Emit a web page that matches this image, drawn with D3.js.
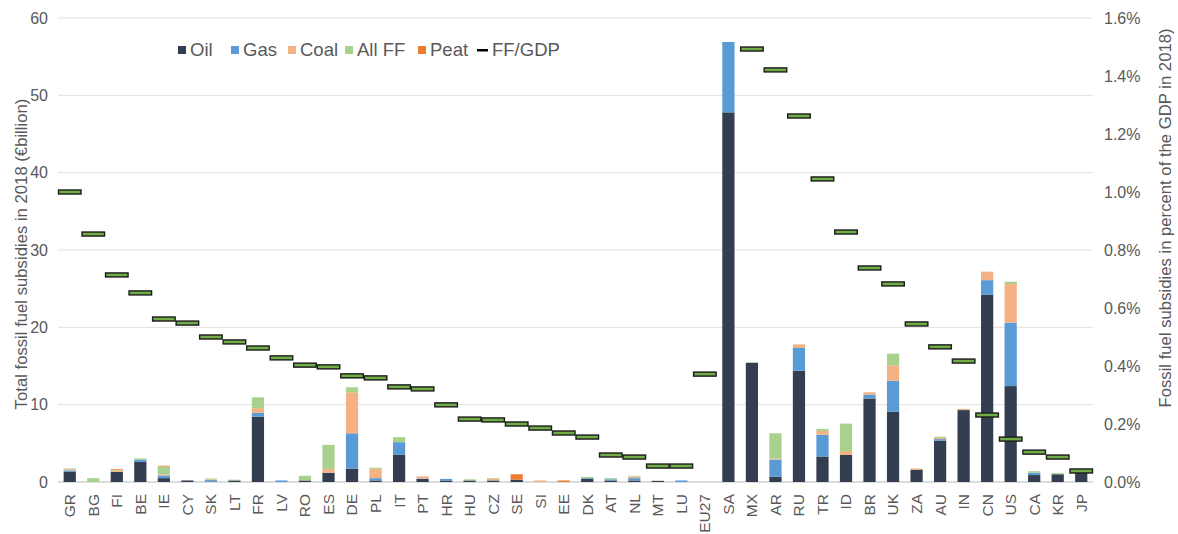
<!DOCTYPE html>
<html>
<head>
<meta charset="utf-8">
<script src="https://cdn.jsdelivr.net/npm/d3@7"></script>
<style>
  body { margin: 0; background: #fff; }
  text { font-family: "Liberation Sans", Arial, sans-serif; fill: #595959; }
</style>
</head>
<body>
<div id="chart"></div>
<script>
// countries, EU members first then EU27 then G20 + others
const countries = ["GR","BG","FI","BE","IE","CY","SK","LT","FR","LV","RO","ES","DE","PL","IT","PT","HR","HU","CZ","SE","SI","EE","DK","AT","NL","MT","LU","EU27",
  "SA","MX","AR","RU","TR","ID","BR","UK","ZA","AU","IN","CN","US","CA","KR","JP"];

// subsidies in €billion
const oil  = [1.3,0,1.3,2.6,0.5,0.2,0.05,0.2,8.45,0,0.2,1.2,1.7,0.2,3.5,0.4,0.2,0.2,0.2,0.3,0,0,0.4,0.2,0.2,0.15,0,0,
  47.8,15.4,0.7,14.4,3.3,3.5,10.8,9.1,1.6,5.35,9.3,24.2,12.4,0.9,1.0,1.2];
const gas  = [0.2,0,0,0.3,0.35,0,0.2,0,0.5,0.2,0,0,4.6,0.3,1.65,0.05,0.2,0,0,0,0,0,0.1,0.15,0.3,0,0.2,0,
  9.1,0,2.2,3.0,2.8,0,0.5,4.0,0,0.2,0,1.9,8.2,0.3,0,0];
const coal = [0.15,0,0.15,0,0.15,0,0.1,0,0.6,0,0,0.5,5.3,1.2,0,0.2,0,0,0.2,0,0.2,0,0,0,0.2,0,0,0,
  0,0,0.1,0.4,0.5,0.5,0.3,2.0,0.15,0.15,0.15,1.1,5.0,0,0,0];
const allFF= [0.1,0.5,0.15,0.15,1.0,0,0.1,0.1,1.4,0,0.6,3.1,0.65,0.15,0.65,0,0,0.15,0.1,0,0,0,0.15,0.15,0.1,0,0,0,
  0,0.1,3.3,0,0.25,3.55,0,1.5,0,0.15,0,0,0.3,0.2,0.15,0];
const peat = [0,0,0.1,0,0.1,0,0,0,0,0,0,0,0,0,0,0.05,0,0,0,0.7,0,0.2,0,0,0,0,0,0,
  0,0,0,0,0,0,0,0,0,0,0,0,0,0,0,0];

// fossil fuel subsidies as % of GDP (SA off the scale)
const ffGdp = [1.0,0.855,0.714,0.652,0.562,0.548,0.5,0.483,0.462,0.428,0.403,0.397,0.366,0.359,0.328,0.321,0.266,0.217,0.214,0.2,0.186,0.169,0.155,0.093,0.086,0.055,0.055,0.372,
  null,1.493,1.421,1.262,1.045,0.862,0.738,0.683,0.545,0.466,0.417,0.231,0.148,0.103,0.086,0.038];

const seriesNames = ["Oil","Gas","Coal","All FF","Peat"];
const seriesColors = ["#333f50","#5b9bd5","#f4b183","#a9d18e","#ed7d31"];
const leftTicks = [0,10,20,30,40,50,60];
const rightTicks = [0,0.002,0.004,0.006,0.008,0.010,0.012,0.014,0.016];

const width = 1178, height = 534;
const margin = {top: 18, right: 85, bottom: 52, left: 58};

const data = countries.map((c, i) => ({
  country: c, "Oil": oil[i], "Gas": gas[i], "Coal": coal[i], "All FF": allFF[i], "Peat": peat[i], gdp: ffGdp[i]
}));

const svg = d3.select("#chart").append("svg")
  .attr("width", width).attr("height", height);

const x = d3.scaleBand()
  .domain(countries)
  .range([margin.left, width - margin.right])
  .paddingInner(0.48).paddingOuter(0.24);

const y = d3.scaleLinear().domain([0, 60]).range([height - margin.bottom, margin.top]);
const y2 = d3.scaleLinear().domain([0, 0.016]).range([height - margin.bottom, margin.top]);

// gridlines
svg.append("g")
  .selectAll("line")
  .data(leftTicks)
  .enter().append("line")
    .attr("x1", margin.left).attr("x2", width - margin.right)
    .attr("y1", d => y(d)).attr("y2", d => y(d))
    .attr("stroke", d => d === 0 ? "#d0d0d0" : "#e0e0e0")
    .attr("stroke-width", d => d === 0 ? 1.5 : 1);

// left axis
const yAxis = g => g
  .attr("transform", `translate(${margin.left},0)`)
  .call(d3.axisLeft(y).tickValues(leftTicks).tickSize(0).tickPadding(10))
  .call(g => g.select(".domain").remove())
  .call(g => g.selectAll("text").attr("font-size", 16));
svg.append("g").call(yAxis);

// right axis
const y2Axis = g => g
  .attr("transform", `translate(${width - margin.right},0)`)
  .call(d3.axisRight(y2).tickValues(rightTicks).tickFormat(d3.format(".1%")).tickSize(0).tickPadding(11))
  .call(g => g.select(".domain").remove())
  .call(g => g.selectAll("text").attr("font-size", 16));
svg.append("g").call(y2Axis);

// x axis labels
const xAxis = g => g
  .attr("transform", `translate(0,${height - margin.bottom})`)
  .call(d3.axisBottom(x).tickSize(0))
  .call(g => g.select(".domain").remove())
  .call(g => g.selectAll("text")
    .attr("font-size", 15.5)
    .attr("transform", "rotate(-90)")
    .attr("text-anchor", "end")
    .attr("x", -12).attr("y", 0).attr("dy", "0.35em"));
svg.append("g").call(xAxis);

// axis titles
svg.append("text")
  .attr("transform", "translate(21,254) rotate(-90)")
  .attr("text-anchor", "middle")
  .attr("dy", "0.35em")
  .attr("font-size", 16.7)
  .text("Total fossil fuel subsidies in 2018 (€billion)");

svg.append("text")
  .attr("transform", "translate(1165,218) rotate(-90)")
  .attr("text-anchor", "middle")
  .attr("dy", "0.35em")
  .attr("font-size", 16.7)
  .text("Fossil fuel subsidies in percent of the GDP in 2018)");

// stacked bars
const stack = d3.stack().keys(seriesNames);
const stacked = stack(data);
const color = d3.scaleOrdinal().domain(seriesNames).range(seriesColors);

svg.append("g")
  .selectAll("g")
  .data(stacked)
  .enter().append("g")
    .attr("fill", d => color(d.key))
  .selectAll("rect")
  .data(d => d)
  .enter().append("rect")
    .attr("x", d => x(d.data.country))
    .attr("width", x.bandwidth())
    .attr("y", d => y(d[1]))
    .attr("height", d => y(d[0]) - y(d[1]));

// FF/GDP markers
const step = x.step();
svg.append("g")
  .selectAll("rect")
  .data(data.filter(d => d.gdp != null))
  .enter().append("rect")
    .attr("x", d => x(d.country) + x.bandwidth() / 2 - step / 2 + 0.5)
    .attr("width", step - 1)
    .attr("y", d => y2(d.gdp / 100) - 2)
    .attr("height", 4)
    .attr("fill", "#70ad47")
    .attr("stroke", "#1a1a1a")
    .attr("stroke-width", 1.4);

// legend
const legendItems = seriesNames.concat(["FF/GDP"]);
const legendX = [178, 231, 288, 345, 418, 477];
const legend = svg.append("g").attr("transform", "translate(0,50)");
legendItems.forEach((name, i) => {
  const g = legend.append("g").attr("transform", `translate(${legendX[i]},0)`);
  if (name === "FF/GDP") {
    g.append("rect").attr("x", 0).attr("y", -1).attr("width", 11).attr("height", 2.5).attr("fill", "#000");
  } else {
    g.append("rect").attr("x", 0).attr("y", -4).attr("width", 8).attr("height", 8).attr("fill", color(name));
  }
  g.append("text").attr("x", name === "FF/GDP" ? 15 : 12).attr("y", 0).attr("dy", "0.35em")
    .attr("font-size", 18.5).text(name);
});
</script>
</body>
</html>
